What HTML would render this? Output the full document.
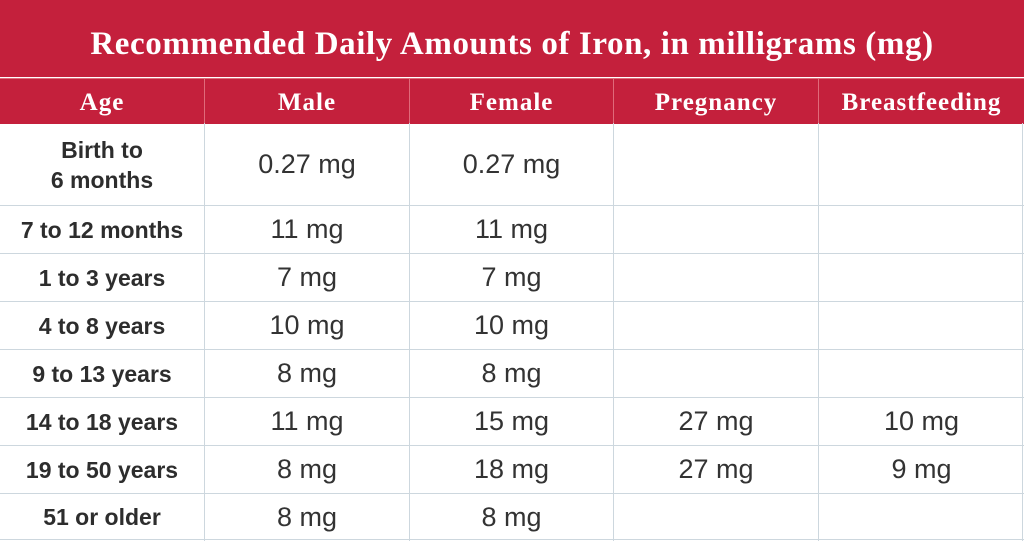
<!DOCTYPE html><html><head><style>
body{margin:0;width:1024px;height:541px;overflow:hidden;background:#fff;position:relative;font-family:"Liberation Sans",sans-serif}
.t{position:absolute;left:0;top:0;width:1024px;height:77px;background:#c4203c;color:#fff;font-family:"Liberation Serif",serif;font-weight:bold;font-size:33px;letter-spacing:0.6px;text-align:center;line-height:88px;white-space:nowrap}
.h{position:absolute;left:0;top:78px;width:1024px;height:45px;background:#c4203c;border-top:1px solid #e06a7a}
.c{position:absolute;display:flex;align-items:center;justify-content:center;text-align:center}
.hc{color:#fff;font-family:"Liberation Serif",serif;font-weight:bold;font-size:25px;letter-spacing:1px}
.a{font-weight:bold;font-size:23px;color:#2d2d2d;line-height:30px}
.v{font-size:27px;color:#333}
.vl{position:absolute;width:1px;background:#cdd7de}
.hl{position:absolute;height:1px;left:0;width:1024px;background:#cdd7de}
.hv{position:absolute;width:1px;top:78px;height:45px;background:#e06a7a}
</style></head><body>
<div class="t">Recommended Daily Amounts of Iron, in milligrams (mg)</div>
<div class="h"></div>
<div class="hv" style="left:204px"></div><div class="hv" style="left:409px"></div><div class="hv" style="left:613px"></div><div class="hv" style="left:818px"></div>
<div class="vl" style="left:204px;top:123px;height:418px"></div>
<div class="vl" style="left:409px;top:123px;height:418px"></div>
<div class="vl" style="left:613px;top:123px;height:418px"></div>
<div class="vl" style="left:818px;top:123px;height:418px"></div>
<div class="vl" style="left:1022px;top:123px;height:418px"></div>
<div class="hl" style="top:205px"></div><div class="hl" style="top:253px"></div><div class="hl" style="top:301px"></div><div class="hl" style="top:349px"></div><div class="hl" style="top:397px"></div><div class="hl" style="top:445px"></div><div class="hl" style="top:493px"></div><div class="hl" style="top:539px"></div>
<div class="c hc" style="left:0;top:80px;width:204px;height:45px">Age</div>
<div class="c hc" style="left:205px;top:80px;width:204px;height:45px">Male</div>
<div class="c hc" style="left:410px;top:80px;width:203px;height:45px">Female</div>
<div class="c hc" style="left:614px;top:80px;width:204px;height:45px">Pregnancy</div>
<div class="c hc" style="left:819px;top:80px;width:205px;height:45px">Breastfeeding</div>

<div class="c a" style="left:0;top:124px;width:204px;height:81px">Birth to<br>6 months</div>
<div class="c v" style="left:205px;top:124px;width:204px;height:81px">0.27 mg</div>
<div class="c v" style="left:410px;top:124px;width:203px;height:81px">0.27 mg</div>

<div class="c a" style="left:0;top:206px;width:204px;height:47px">7 to 12 months</div>
<div class="c v" style="left:205px;top:206px;width:204px;height:47px">11 mg</div>
<div class="c v" style="left:410px;top:206px;width:203px;height:47px">11 mg</div>

<div class="c a" style="left:0;top:254px;width:204px;height:47px">1 to 3 years</div>
<div class="c v" style="left:205px;top:254px;width:204px;height:47px">7 mg</div>
<div class="c v" style="left:410px;top:254px;width:203px;height:47px">7 mg</div>

<div class="c a" style="left:0;top:302px;width:204px;height:47px">4 to 8 years</div>
<div class="c v" style="left:205px;top:302px;width:204px;height:47px">10 mg</div>
<div class="c v" style="left:410px;top:302px;width:203px;height:47px">10 mg</div>

<div class="c a" style="left:0;top:350px;width:204px;height:47px">9 to 13 years</div>
<div class="c v" style="left:205px;top:350px;width:204px;height:47px">8 mg</div>
<div class="c v" style="left:410px;top:350px;width:203px;height:47px">8 mg</div>

<div class="c a" style="left:0;top:398px;width:204px;height:47px">14 to 18 years</div>
<div class="c v" style="left:205px;top:398px;width:204px;height:47px">11 mg</div>
<div class="c v" style="left:410px;top:398px;width:203px;height:47px">15 mg</div>
<div class="c v" style="left:614px;top:398px;width:204px;height:47px">27 mg</div>
<div class="c v" style="left:819px;top:398px;width:205px;height:47px">10 mg</div>

<div class="c a" style="left:0;top:446px;width:204px;height:47px">19 to 50 years</div>
<div class="c v" style="left:205px;top:446px;width:204px;height:47px">8 mg</div>
<div class="c v" style="left:410px;top:446px;width:203px;height:47px">18 mg</div>
<div class="c v" style="left:614px;top:446px;width:204px;height:47px">27 mg</div>
<div class="c v" style="left:819px;top:446px;width:205px;height:47px">9 mg</div>

<div class="c a" style="left:0;top:494px;width:204px;height:46px">51 or older</div>
<div class="c v" style="left:205px;top:494px;width:204px;height:46px">8 mg</div>
<div class="c v" style="left:410px;top:494px;width:203px;height:46px">8 mg</div>
</body></html>
